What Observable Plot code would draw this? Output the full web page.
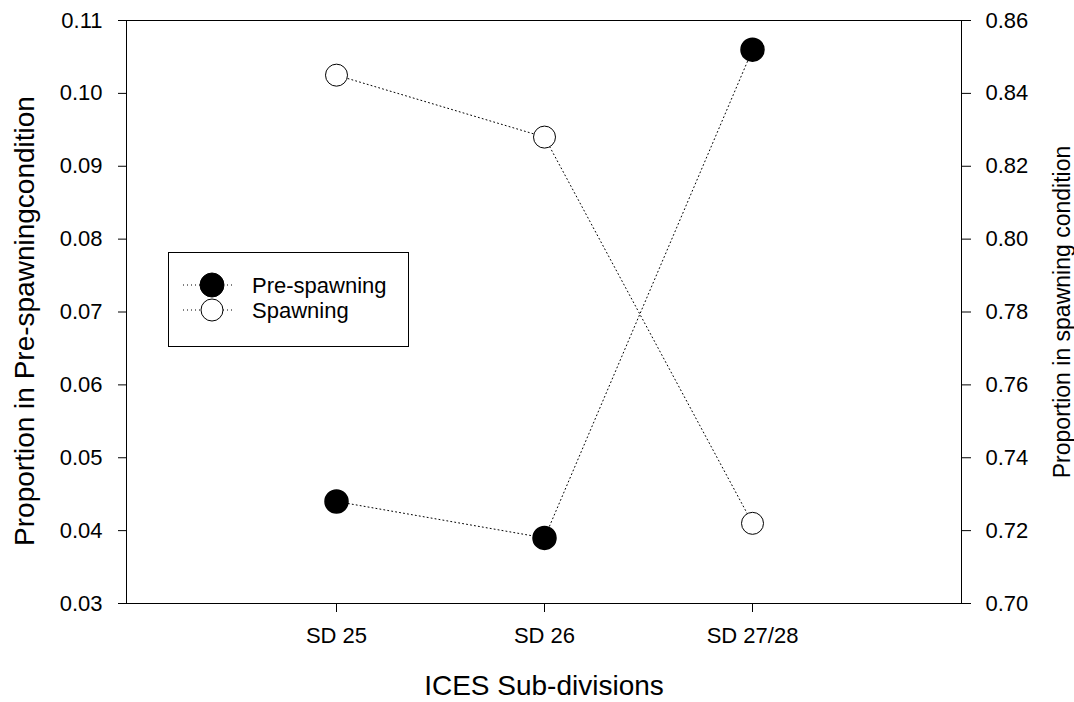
<!DOCTYPE html>
<html>
<head>
<meta charset="utf-8">
<script src="https://cdn.jsdelivr.net/npm/d3@7"></script>
<script src="https://cdn.jsdelivr.net/npm/@observablehq/plot@0.6"></script>
<style>
  html, body { margin: 0; padding: 0; background: #fff; }
  #chart { position: relative; width: 1074px; height: 702px; }
  svg { font-family: Arial, "Liberation Sans", sans-serif; }
</style>
</head>
<body>
<div id="chart"></div>
<script>
const categories = ["SD 25", "SD 26", "SD 27/28"];
const preSpawning = [0.044, 0.039, 0.106];
const spawning = [0.845, 0.828, 0.722];
const leftTicks = [0.03, 0.04, 0.05, 0.06, 0.07, 0.08, 0.09, 0.10, 0.11];
const rightTicks = [0.70, 0.72, 0.74, 0.76, 0.78, 0.80, 0.82, 0.84, 0.86];
const leftDomain = [0.03, 0.11];
const rightDomain = [0.70, 0.86];

// map right-axis values onto the left scale
const toLeft = v => leftDomain[0] + (v - rightDomain[0]) / (rightDomain[1] - rightDomain[0]) * (leftDomain[1] - leftDomain[0]);
const toRight = v => rightDomain[0] + (v - leftDomain[0]) / (leftDomain[1] - leftDomain[0]) * (rightDomain[1] - rightDomain[0]);

const pre = categories.map((c, i) => ({cat: c, y: preSpawning[i]}));
const spa = categories.map((c, i) => ({cat: c, y: toLeft(spawning[i])}));

const W = 1074, H = 702;
const mL = 126, mR = 113, mT = 20, mB = 99;
const FONT = "Arial, 'Liberation Sans', sans-serif";

const plot = Plot.plot({
  width: W, height: H,
  marginLeft: mL, marginRight: mR, marginTop: mT, marginBottom: mB,
  style: {fontFamily: FONT, fontSize: "22px", color: "#000", background: "#fff"},
  x: {type: "point", domain: categories, padding: 1},
  y: {domain: leftDomain},
  marks: [
    Plot.frame({stroke: "#000", strokeWidth: 1}),
    Plot.axisY(leftTicks, {anchor: "left", tickSize: 8, tickPadding: 16, tickFormat: d => d.toFixed(2), fontSize: 22, label: null}),
    Plot.axisY(rightTicks.map(toLeft), {anchor: "right", tickSize: 9, tickPadding: 15, tickFormat: d => toRight(d).toFixed(2), fontSize: 22, label: null}),
    Plot.axisX(categories, {anchor: "bottom", tickSize: 9, tickPadding: 15, fontSize: 22, label: null}),
    Plot.line(pre, {x: "cat", y: "y", stroke: "#000", strokeWidth: 1, strokeDasharray: "1,3"}),
    Plot.line(spa, {x: "cat", y: "y", stroke: "#000", strokeWidth: 1, strokeDasharray: "1,3"}),
    Plot.dot(pre, {x: "cat", y: "y", r: 11.5, fill: "#000", stroke: "#000"}),
    Plot.dot(spa, {x: "cat", y: "y", r: 11, fill: "#fff", stroke: "#000", strokeWidth: 1}),
    Plot.text(["Proportion in Pre-spawningcondition"], {frameAnchor: "left", textAnchor: "middle", lineAnchor: "middle", dx: -101, dy: 9, rotate: -90, fontSize: 28, text: d => d}),
    Plot.text(["Proportion in spawning condition"], {frameAnchor: "right", textAnchor: "middle", lineAnchor: "middle", dx: 101, rotate: -90, fontSize: 23, text: d => d}),
    Plot.text(["ICES Sub-divisions"], {frameAnchor: "bottom", textAnchor: "middle", lineAnchor: "middle", dy: 83, fontSize: 28, text: d => d})
  ]
});

document.getElementById("chart").appendChild(plot);

const svg = d3.select(plot);
// make sure tick labels use the reference size
svg.selectAll('g[aria-label$="tick label"]').attr("font-size", 22).selectAll("text").attr("font-size", 22);

// legend box inside the plot area
const lg = svg.append("g").attr("font-family", FONT).attr("font-size", 22).attr("text-anchor", "start");
lg.append("rect").attr("x", 168.5).attr("y", 252.5).attr("width", 240).attr("height", 94)
  .attr("fill", "#fff").attr("stroke", "#000").attr("stroke-width", 1);
const legendItems = [
  {label: "Pre-spawning", fill: "#000", r: 12},
  {label: "Spawning", fill: "#fff", r: 11}
];
legendItems.forEach((it, i) => {
  const cy = 285 + i * 25;
  lg.append("line").attr("x1", 183).attr("x2", 232).attr("y1", cy).attr("y2", cy)
    .attr("stroke", "#000").attr("stroke-dasharray", "1,3");
  lg.append("circle").attr("cx", 212).attr("cy", cy).attr("r", it.r)
    .attr("fill", it.fill).attr("stroke", "#000");
  lg.append("text").attr("x", 252).attr("y", cy).attr("dy", "0.35em").attr("text-anchor", "start").text(it.label);
});
</script>
</body>
</html>
